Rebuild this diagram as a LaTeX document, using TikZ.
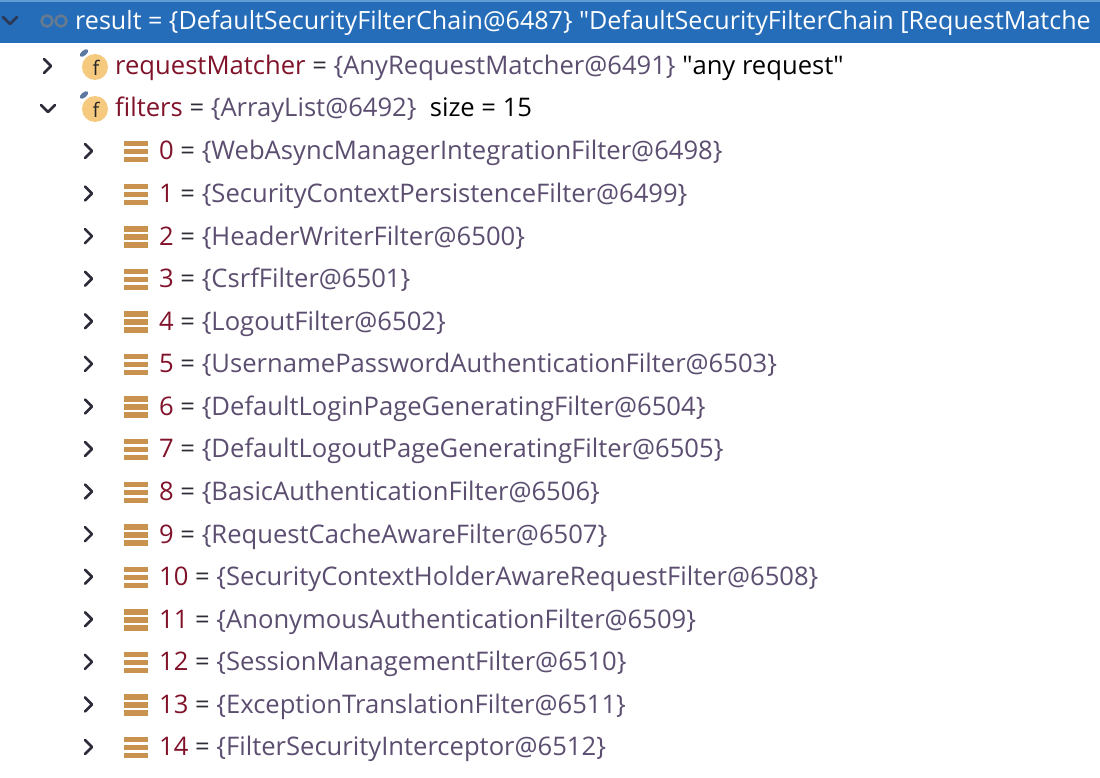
\documentclass[tikz,border=0pt]{standalone}
\usepackage{fontspec}
\setmainfont{Open Sans}
\usepackage{xcolor}
\definecolor{hdrblue}{RGB}{38,109,185}
\definecolor{hdrline}{RGB}{96,156,214}
\definecolor{keyred}{RGB}{128,18,42}
\definecolor{valgray}{RGB}{92,78,112}
\definecolor{eqgray}{RGB}{45,45,55}
\definecolor{chevgray}{RGB}{45,42,58}
\definecolor{stackbrown}{RGB}{201,146,78}
\definecolor{fieldbg}{RGB}{246,202,126}
\definecolor{pinblue}{RGB}{92,120,160}

\begin{document}
\begin{tikzpicture}[x=1pt,y=-1pt,
  every node/.style={inner sep=0pt,font=\fontsize{25.6}{30}\selectfont},
  rowtext/.style={anchor=base west,text=eqgray},
  chevr/.style={draw=chevgray,line width=2.6pt,line cap=round,line join=round},
  stackicon/.pic={
    \foreach \dy in {-10,-2,6}
      \fill[stackbrown] (-12,\dy) rectangle (12,\dy+5.5);
  },
  fieldicon/.pic={
    \fill[fieldbg] (0,0) circle (13);
    \node[text=black!85,font=\fontsize{20}{21}\selectfont] at (1,1) {f};
    \fill[pinblue,rotate around={40:(-11,-14)}] (-11,-14) ellipse (5 and 2.6);
  }]
\useasboundingbox (0,0) rectangle (1100,778);
\clip (0,0) rectangle (1100,778);
\fill[white] (0,0) rectangle (1100,778);
% ligne selectionnee
\fill[hdrblue] (0,0) rectangle (1100,43);
\fill[hdrline] (0,0) rectangle (1100,2.5);
\draw[chevr,draw=chevgray!80!hdrblue] (3,17) -- (10,24) -- (17,17);
\draw[line width=2.6pt,draw=gray!70!hdrblue] (47,21) circle (5.5) (61,21) circle (5.5);
\node[rowtext,text=white,font=\fontsize{25.1}{30}\selectfont] (res) at (75,30)
  {result = \{DefaultSecurityFilterChain@6487\} \textquotedbl DefaultSecurityFilterChain [RequestMatche};
% champs
\draw[chevr] (44,59) -- (51,66) -- (44,73);
\pic at (95,67) {fieldicon};
\node[rowtext] (rm) at (115,75)
  {\textcolor{keyred}{requestMatcher} = \textcolor{valgray}{\{AnyRequestMatcher@6491\}} \textcolor{black}{\textquotedbl any request\textquotedbl}};
\draw[chevr] (41,105) -- (48,112) -- (55,105);
\pic at (95,109) {fieldicon};
\node[rowtext] (fl) at (115,117)
  {\textcolor{keyred}{filters} = \textcolor{valgray}{\{ArrayList@6492\}}\ \ \textcolor{black}{size = 15}};
% les 15 filtres
\foreach \nm [count=\i from 0] in {WebAsyncManagerIntegrationFilter,
  SecurityContextPersistenceFilter,HeaderWriterFilter,CsrfFilter,LogoutFilter,
  UsernamePasswordAuthenticationFilter,DefaultLoginPageGeneratingFilter,
  DefaultLogoutPageGeneratingFilter,BasicAuthenticationFilter,
  RequestCacheAwareFilter,SecurityContextHolderAwareRequestFilter,
  AnonymousAuthenticationFilter,SessionManagementFilter,
  ExceptionTranslationFilter,FilterSecurityInterceptor}{
  \pgfmathsetmacro\yy{151+42.57*\i}
  \pgfmathtruncatemacro\id{6498+\i}
  \draw[chevr] (85,\yy-7) -- (92,\yy) -- (85,\yy+7);
  \pic at (136,\yy) {stackicon};
  \node[rowtext] (flt\i) at (159,\yy+9)
    {\textcolor{keyred}{\i} = \textcolor{valgray}{\{\nm @\id\}}};
}
\end{tikzpicture}
\end{document}
